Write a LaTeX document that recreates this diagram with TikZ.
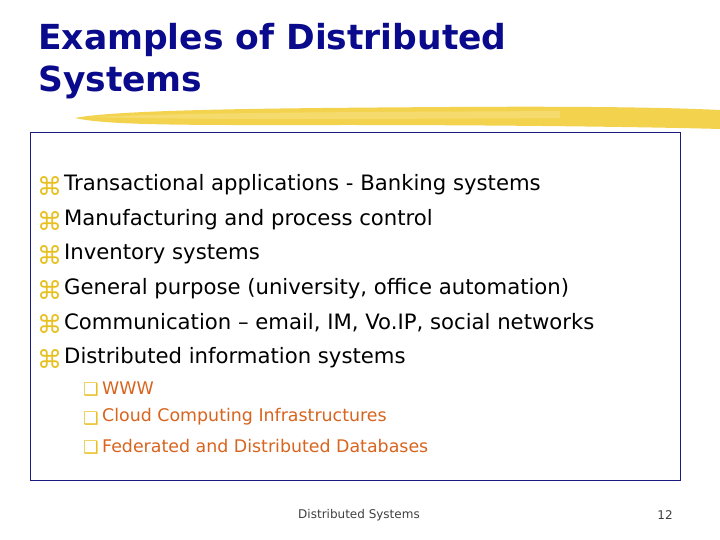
\documentclass[tikz,border=0pt]{standalone}
\usepackage{fontspec}
\setmainfont{DejaVu Sans}
\definecolor{titleblue}{HTML}{0A0A8C}
\definecolor{boxblue}{HTML}{1A1A80}
\definecolor{bulyel}{HTML}{E8C020}
\definecolor{subor}{HTML}{D8641E}
\definecolor{brush}{HTML}{F2CF3A}
\begin{document}
\begin{tikzpicture}[x=1pt,y=-1pt,
  title/.style={anchor=west,inner sep=0,font=\bfseries\fontsize{34.5}{34}\selectfont,text=titleblue},
  item/.style={anchor=west,inner sep=0,font=\fontsize{21.2}{22}\selectfont},
  bul/.style={anchor=west,inner sep=0,font=\fontsize{25}{25}\selectfont,text=bulyel},
  subitem/.style={anchor=west,inner sep=0,font=\fontsize{17.4}{18}\selectfont,text=subor},
  subbul/.style={anchor=west,inner sep=0,font=\fontsize{17.4}{18}\selectfont,text=bulyel},
  foot/.style={inner sep=0,font=\fontsize{12}{12}\selectfont,text=black!75}]
\useasboundingbox (0,0) rectangle (720,540);
\fill[white] (0,0) rectangle (720,540);
% brush stroke
\fill[brush,opacity=0.9] (75,118) .. controls (120,109) and (300,108) .. (450,107)
  .. controls (600,106) and (680,108) .. (720,110) -- (720,129)
  .. controls (650,127) and (500,125) .. (350,125) .. controls (200,125) and (110,126) .. (75,118) -- cycle;
\fill[brush!70!white,opacity=0.8] (90,117) .. controls (200,112) and (400,112) .. (560,111) -- (560,118) .. controls (400,119) and (200,120) .. (90,117) -- cycle;
\node[title] (t1) at (38,40) {Examples of Distributed};
\node[title] (t2) at (38,82) {Systems};
\node[draw=boxblue,line width=0.9pt,minimum width=650,minimum height=348,anchor=north west,inner sep=0] (box) at (30,132) {};
\foreach \y/\t [count=\i] in {185/Transactional applications - Banking systems,
  220/Manufacturing and process control,
  254/Inventory systems,
  289/{General purpose (university, office automation)},
  323/{Communication – email, IM, Vo.IP, social networks},
  358/Distributed information systems}{
  \node[bul] (b\i) at (37,\y+1) {⌘};
  \node[item] (i\i) at (64,\y) {\t};
}
\foreach \y/\t [count=\i] in {388/WWW,417/Cloud Computing Infrastructures,446/Federated and Distributed Databases}{
  \node[subbul] (sb\i) at (83,\y+2) {❑};
  \node[subitem] (s\i) at (102,\y) {\t};
}
\node[foot] (f1) at (359,515) {Distributed Systems};
\node[foot] (f2) at (665,515) {12};
\end{tikzpicture}
\end{document}
